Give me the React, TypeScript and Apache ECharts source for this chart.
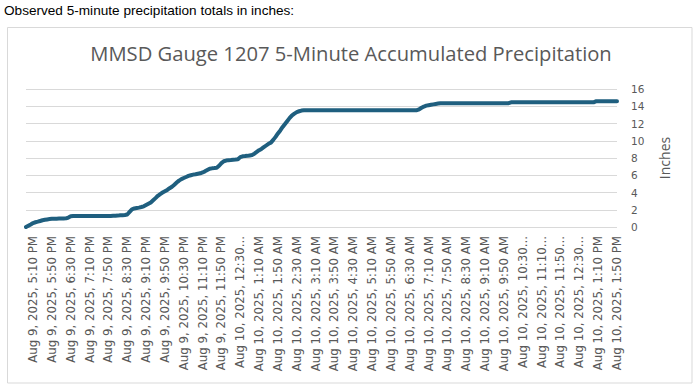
import React, { useEffect, useRef } from "react";
import * as echarts from "echarts";

const HEADER = "Observed 5-minute precipitation totals in inches:";
const TITLE = "MMSD Gauge 1207 5-Minute Accumulated Precipitation";
const Y_NAME = "Inches";
const Y_TICKS = [0, 2, 4, 6, 8, 10, 12, 14, 16];

// 5-minute timestamps, Aug 9 2025 4:55 PM .. Aug 10 2025 1:50 PM
const START_MINUTE = 16 * 60 + 55;
const STEP_MINUTES = 5;
const POINT_COUNT = 252;

function stamp(i: number): string {
  const t = START_MINUTE + STEP_MINUTES * i;
  const day = 9 + Math.floor(t / 1440);
  const m = t % 1440;
  const h24 = Math.floor(m / 60);
  const mm = m % 60;
  const ampm = h24 < 12 ? "AM" : "PM";
  const h12 = h24 % 12 || 12;
  return `Aug ${day}, 2025, ${h12}:${mm < 10 ? "0" + mm : mm} ${ampm}`;
}
const categories: string[] = [];
for (let i = 0; i < POINT_COUNT; i++) categories.push(stamp(i));

// accumulated precipitation (inches)
const accumulated = [
  0, 0.15, 0.3, 0.46, 0.55, 0.62, 0.7, 0.78, 0.83, 0.88,
  0.92, 0.95, 0.97, 0.97, 0.98, 0.98, 0.99, 1.0, 1.1, 1.25,
  1.28, 1.28, 1.28, 1.28, 1.28, 1.28, 1.28, 1.28, 1.28, 1.28,
  1.28, 1.28, 1.28, 1.28, 1.28, 1.28, 1.28, 1.3, 1.3, 1.32,
  1.35, 1.37, 1.4, 1.45, 1.75, 2.05, 2.15, 2.2, 2.25, 2.32,
  2.4, 2.55, 2.7, 2.85, 3.1, 3.35, 3.62, 3.82, 4.0, 4.15,
  4.3, 4.5, 4.67, 4.9, 5.15, 5.38, 5.55, 5.68, 5.8, 5.92,
  6.0, 6.07, 6.12, 6.18, 6.22, 6.32, 6.45, 6.6, 6.75, 6.8,
  6.83, 6.87, 7.1, 7.4, 7.62, 7.7, 7.75, 7.77, 7.8, 7.82,
  7.85, 8.1, 8.2, 8.22, 8.25, 8.3, 8.35, 8.5, 8.7, 8.9,
  9.05, 9.25, 9.45, 9.65, 9.78, 10.1, 10.45, 10.85, 11.2, 11.6,
  11.95, 12.3, 12.65, 12.95, 13.15, 13.32, 13.42, 13.5, 13.53, 13.55,
  13.55, 13.55, 13.55, 13.55, 13.55, 13.55, 13.55, 13.55, 13.55, 13.55,
  13.55, 13.55, 13.55, 13.55, 13.55, 13.55, 13.55, 13.55, 13.55, 13.55,
  13.55, 13.55, 13.55, 13.55, 13.55, 13.55, 13.55, 13.55, 13.55, 13.55,
  13.55, 13.55, 13.55, 13.55, 13.55, 13.55, 13.55, 13.55, 13.55, 13.55,
  13.55, 13.55, 13.55, 13.55, 13.55, 13.55, 13.55, 13.65, 13.82, 13.97,
  14.07, 14.12, 14.17, 14.22, 14.27, 14.31, 14.35, 14.35, 14.35, 14.35,
  14.35, 14.35, 14.35, 14.35, 14.35, 14.35, 14.35, 14.35, 14.35, 14.35,
  14.35, 14.35, 14.35, 14.35, 14.35, 14.35, 14.35, 14.35, 14.35, 14.35,
  14.35, 14.35, 14.35, 14.35, 14.35, 14.35, 14.45, 14.45, 14.45, 14.45,
  14.45, 14.45, 14.45, 14.45, 14.45, 14.45, 14.45, 14.45, 14.45, 14.45,
  14.45, 14.45, 14.45, 14.45, 14.45, 14.45, 14.45, 14.45, 14.45, 14.45,
  14.45, 14.45, 14.45, 14.45, 14.45, 14.45, 14.45, 14.45, 14.45, 14.45,
  14.45, 14.45, 14.57, 14.57, 14.57, 14.57, 14.57, 14.57, 14.57, 14.57,
  14.57, 14.57,
];

const GRAY = "#595959";

export default function App() {
  const ref = useRef<HTMLDivElement>(null);
  useEffect(() => {
    if (!ref.current) return;
    const chart = echarts.init(ref.current, null, { renderer: "svg" });
    chart.setOption({
      animation: false,
      backgroundColor: "#ffffff",
      grid: { left: 26, top: 89, width: 591, height: 138, containLabel: false },
      graphic: [
        {
          type: "rect",
          shape: { x: 7.5, y: 27.5, width: 684.5, height: 355.5 },
          style: { fill: "none", stroke: "#d9d9d9", lineWidth: 1 },
          silent: true,
        },
        {
          type: "text",
          x: 4,
          y: 10,
          style: {
            text: HEADER,
            font: '13.6px "Liberation Sans", Arial, sans-serif',
            fill: "#000000",
            verticalAlign: "middle",
          },
        },
        {
          type: "text",
          x: 351,
          y: 53,
          style: {
            text: TITLE,
            font: '20.2px "Open Sans", sans-serif',
            fill: GRAY,
            align: "center",
            verticalAlign: "middle",
          },
        },
      ],
      xAxis: {
        type: "category",
        data: categories,
        boundaryGap: false,
        axisLine: { show: false },
        axisTick: { show: false },
        axisLabel: {
          interval: (index: number) => (index - 3) % 8 === 0,
          rotate: 90,
          margin: 9,
          color: GRAY,
          fontSize: 11.8,
          fontFamily: '"DejaVu Sans", sans-serif',
          formatter: (v: string) => (v.length > 21 ? v.slice(0, 19) + "..." : v),
        },
        splitLine: { show: false },
      },
      yAxis: {
        type: "value",
        position: "right",
        min: Y_TICKS[0],
        max: Y_TICKS[Y_TICKS.length - 1],
        interval: 2,
        name: Y_NAME,
        nameLocation: "middle",
        nameRotate: 90,
        nameGap: 40,
        nameTextStyle: { color: GRAY, fontSize: 14, fontFamily: '"Open Sans", sans-serif' },
        axisLine: { show: false },
        axisTick: { show: false },
        axisLabel: {
          color: GRAY,
          fontSize: 10.5,
          margin: 14,
          fontFamily: '"DejaVu Sans", sans-serif',
        },
        splitLine: { lineStyle: { color: "#d9d9d9", width: 1 } },
      },
      series: [
        {
          type: "line",
          data: accumulated,
          showSymbol: false,
          symbol: "none",
          lineStyle: { color: "#1f5f7f", width: 4, cap: "round", join: "round" },
        },
      ],
    });
    return () => chart.dispose();
  }, []);
  return (
    <div
      ref={ref}
      style={{ position: "fixed", left: 0, top: 0, width: 699, height: 392 }}
    />
  );
}
